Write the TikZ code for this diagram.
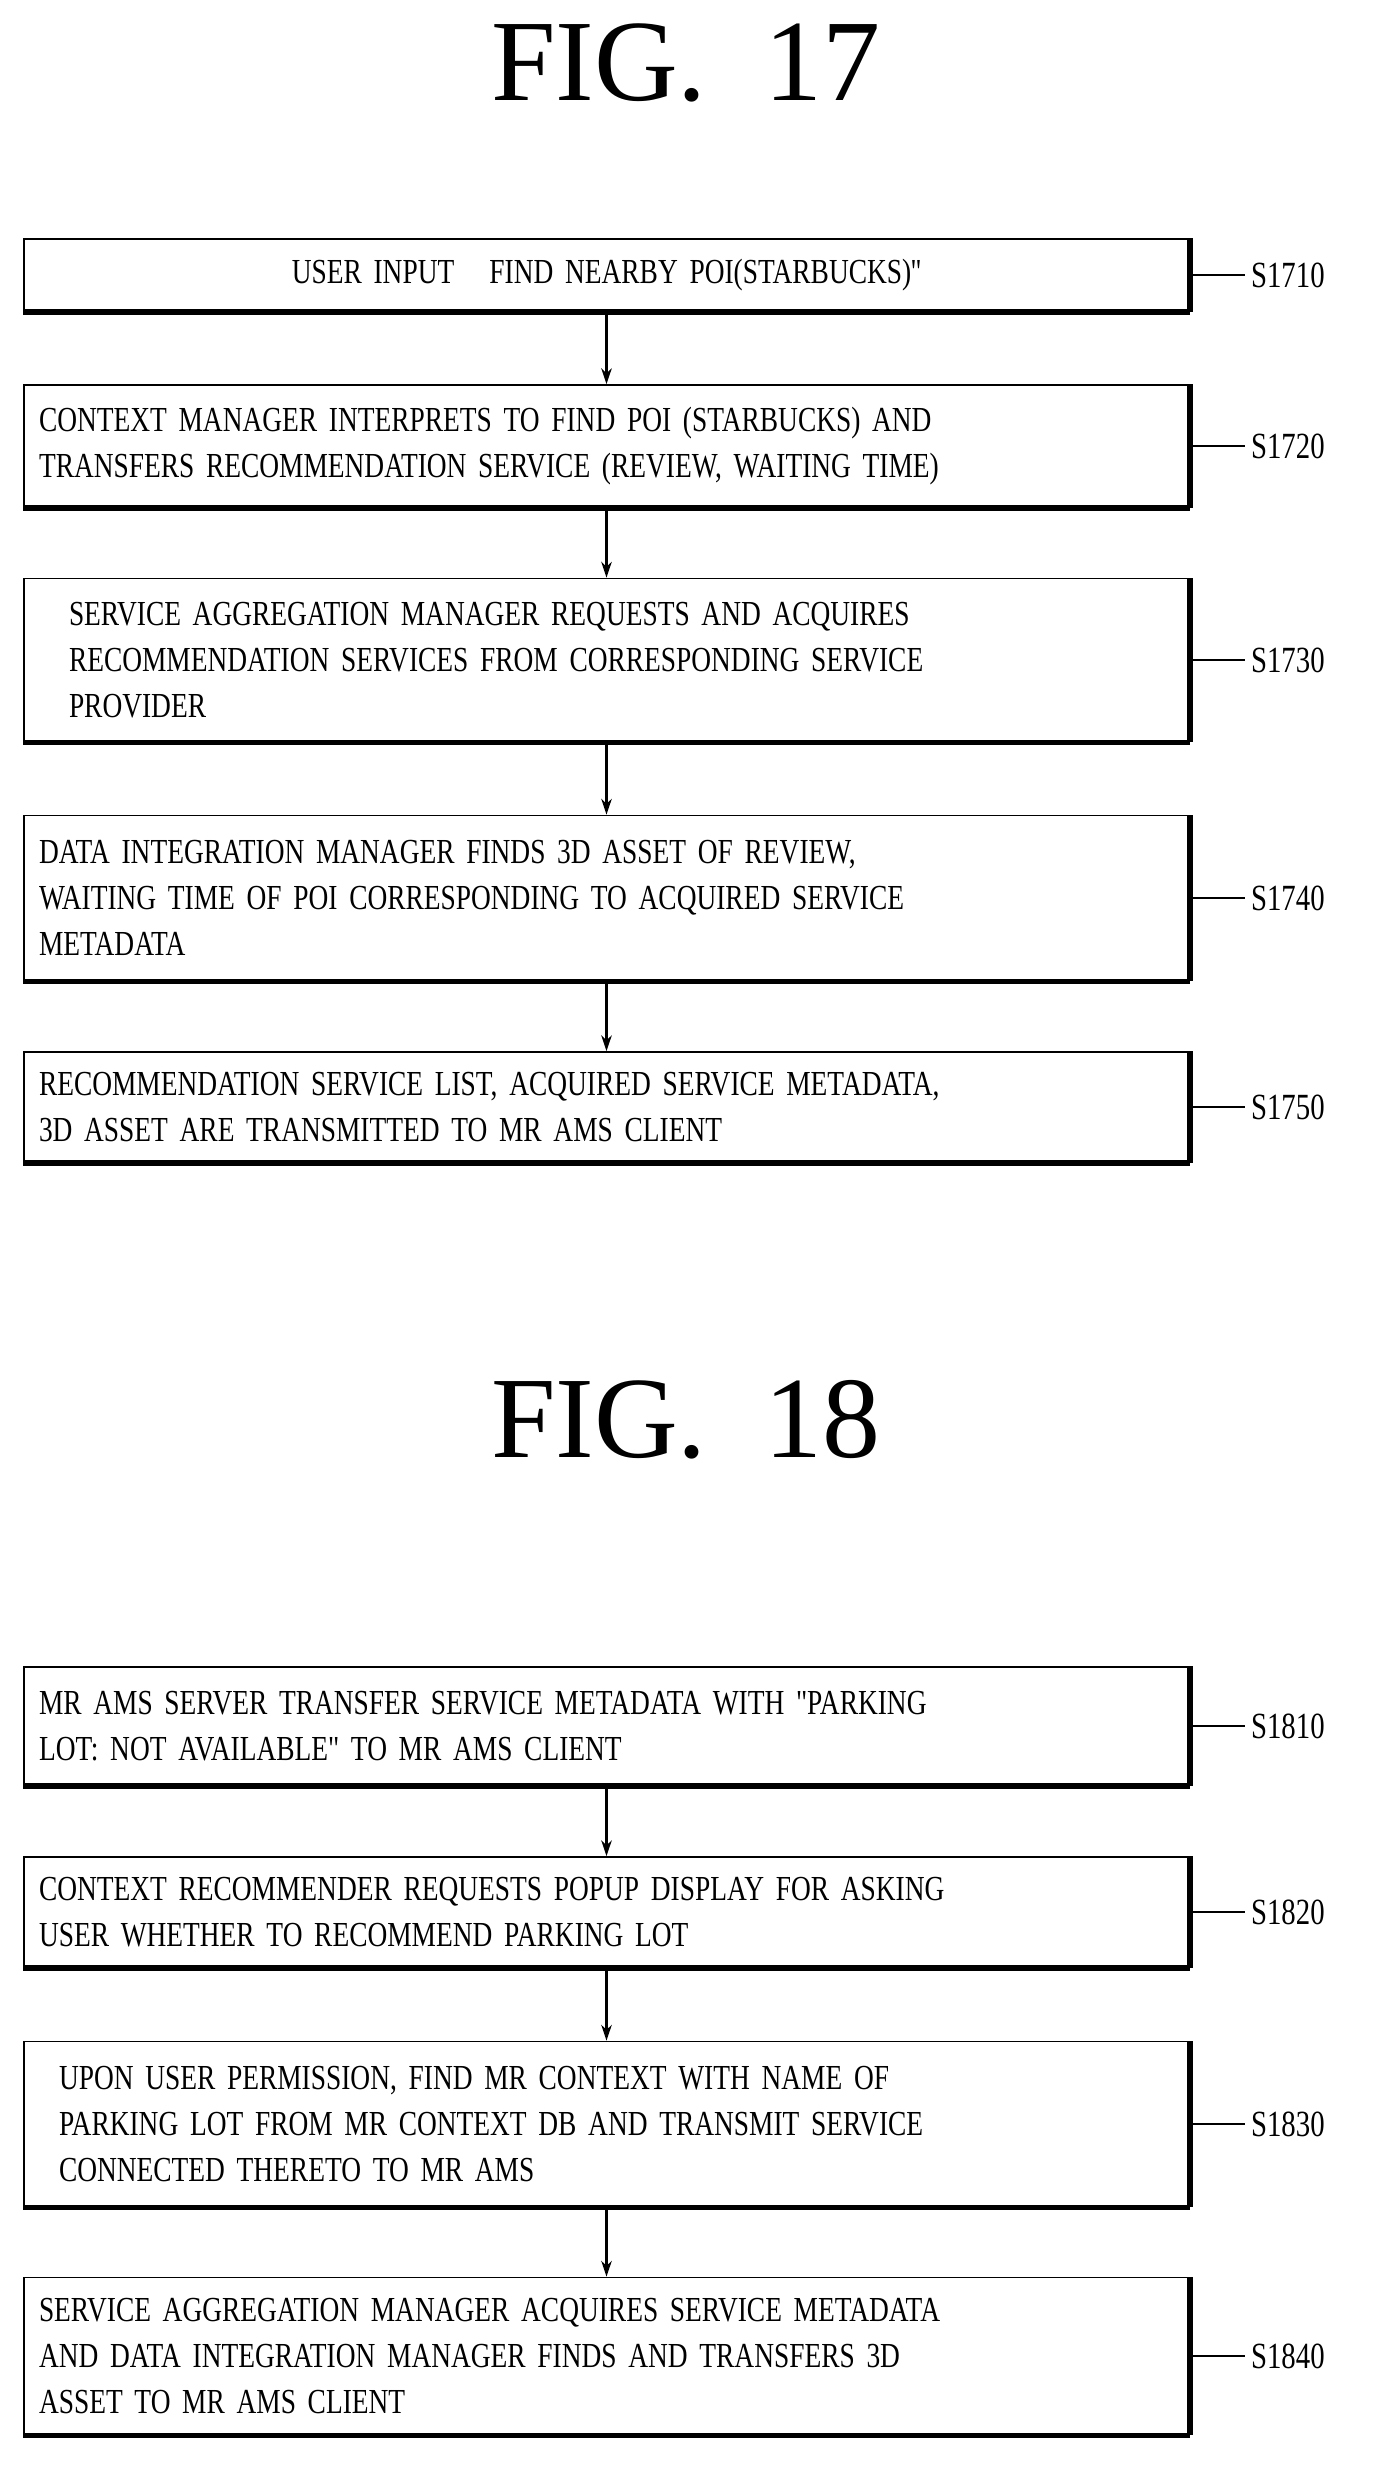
\documentclass[tikz,border=0pt]{standalone}
\usepackage{fontspec}
\setmainfont{Liberation Serif}
\newfontfamily\narrowfont[FakeStretch=0.78]{Liberation Serif}
\usetikzlibrary{arrows.meta}

\tikzset{
    stage/.style = {draw, line width = 1pt, minimum width = 23.3cm, text width = 22.7cm,
        align = left, font = \narrowfont\fontsize{20}{26}\selectfont, inner sep = 0pt,
        append after command = {
            (\tikzlastnode.south west) edge[-, line width = 3pt] (\tikzlastnode.south east)
            (\tikzlastnode.south east) edge[-, line width = 3pt] (\tikzlastnode.north east)}},
    tag/.style = {font = \narrowfont\fontsize{21}{24}\selectfont, anchor = west},
    flow/.style = {-{Stealth[length = 9pt, width = 6pt]}, line width = 1.2pt},
    title/.style = {font = \fontsize{66}{70}\selectfont}
}

\begin{document}
\begin{tikzpicture}
    \useasboundingbox (0,0) rectangle (27.54,-49.64);
    \node[title] (F17) at (13.72,-1.25) {FIG.\ \ 17};
    \node[title] (F18) at (13.72,-28.4) {FIG.\ \ 18};

    % FIG. 17
    \node[stage, minimum height = 1.44cm, align = center] (A) at (12.13,-5.5)
        {USER INPUT\ \ \ FIND NEARBY POI(STARBUCKS)''};
    \node[stage, minimum height = 2.44cm] (B) at (12.13,-8.92)
        {CONTEXT MANAGER INTERPRETS TO FIND POI (STARBUCKS) AND\\
         TRANSFERS RECOMMENDATION SERVICE (REVIEW, WAITING TIME)};
    \node[stage, minimum height = 3.26cm] (C) at (12.13,-13.2)
        {\hspace*{0.6cm}SERVICE AGGREGATION MANAGER REQUESTS AND ACQUIRES\\
         \hspace*{0.6cm}RECOMMENDATION SERVICES FROM CORRESPONDING SERVICE\\
         \hspace*{0.6cm}PROVIDER};
    \node[stage, minimum height = 3.3cm] (D) at (12.13,-17.96)
        {DATA INTEGRATION MANAGER FINDS 3D ASSET OF REVIEW,\\
         WAITING TIME OF POI CORRESPONDING TO ACQUIRED SERVICE\\
         METADATA};
    \node[stage, minimum height = 2.2cm] (E) at (12.13,-22.14)
        {RECOMMENDATION SERVICE LIST, ACQUIRED SERVICE METADATA,\\
         3D ASSET ARE TRANSMITTED TO MR AMS CLIENT};

    % FIG. 18
    \node[stage, minimum height = 2.36cm] (G) at (12.13,-34.52)
        {MR AMS SERVER TRANSFER SERVICE METADATA WITH "PARKING\\
         LOT: NOT AVAILABLE" TO MR AMS CLIENT};
    \node[stage, minimum height = 2.2cm] (H) at (12.13,-38.24)
        {CONTEXT RECOMMENDER REQUESTS POPUP DISPLAY FOR ASKING\\
         USER WHETHER TO RECOMMEND PARKING LOT};
    \node[stage, minimum height = 3.3cm] (I) at (12.13,-42.48)
        {\hspace*{0.4cm}UPON USER PERMISSION, FIND MR CONTEXT WITH NAME OF\\
         \hspace*{0.4cm}PARKING LOT FROM MR CONTEXT DB AND TRANSMIT SERVICE\\
         \hspace*{0.4cm}CONNECTED THERETO TO MR AMS};
    \node[stage, minimum height = 3.14cm] (J) at (12.13,-47.12)
        {SERVICE AGGREGATION MANAGER ACQUIRES SERVICE METADATA\\
         AND DATA INTEGRATION MANAGER FINDS AND TRANSFERS 3D\\
         ASSET TO MR AMS CLIENT};

    % stage tags
    \foreach \blk/\num in {A/S1710, B/S1720, C/S1730, D/S1740, E/S1750,
                           G/S1810, H/S1820, I/S1830, J/S1840} {
        \node[tag] (t\num) at ([xshift = 1.1cm]\blk.east) {\num};
        \draw[line width = 1pt] (\blk.east) -- (t\num.west);
    }

    \foreach \from/\to in {A/B, B/C, C/D, D/E, G/H, H/I, I/J}
        \draw[flow] (\from) -- (\to);
\end{tikzpicture}
\end{document}
